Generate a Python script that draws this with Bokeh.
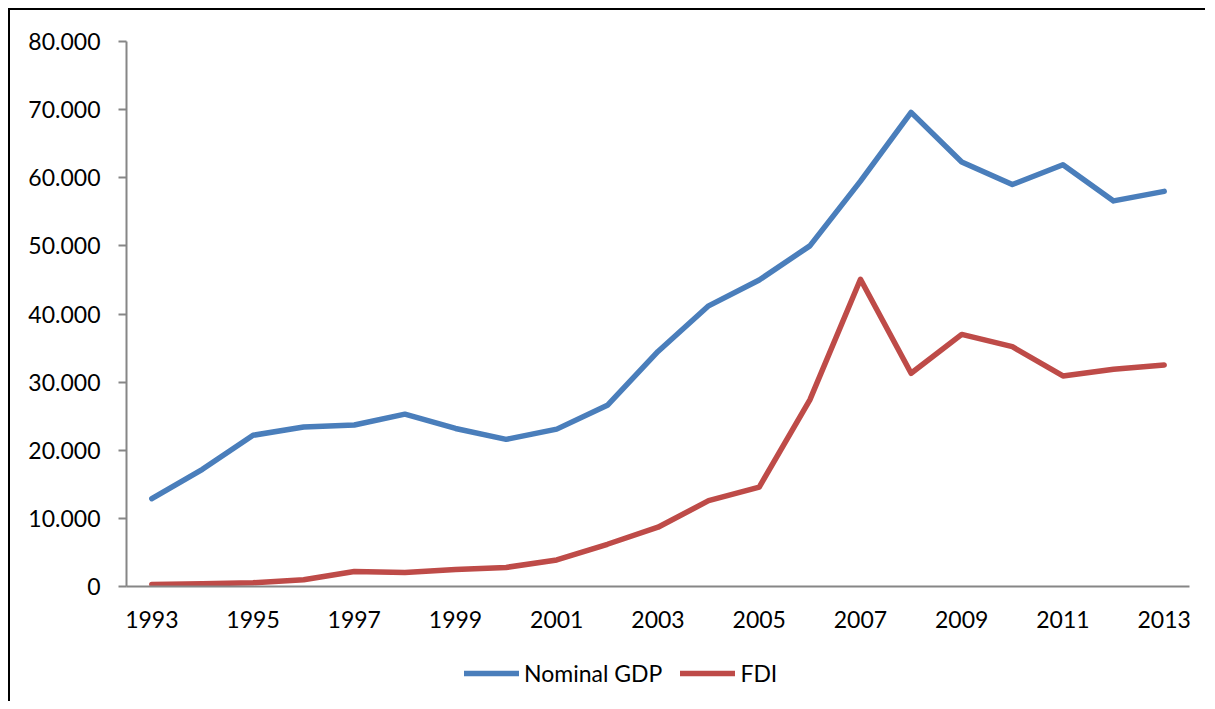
from bokeh.plotting import figure
from bokeh.layouts import column
from bokeh.models import Range1d, FixedTicker, Legend, LegendItem
from bokeh.embed import file_html
from bokeh.resources import INLINE

years = list(range(1993, 2014))
gdp = [12.9, 17.2, 22.2, 23.4, 23.7, 25.3, 23.2, 21.6, 23.1, 26.6, 34.5,
       41.2, 45.0, 50.0, 59.5, 69.6, 62.3, 59.0, 61.9, 56.6, 58.0]
fdi = [0.3, 0.4, 0.55, 1.0, 2.2, 2.05, 2.5, 2.8, 3.9, 6.2, 8.7,
       12.6, 14.6, 27.4, 45.1, 31.3, 37.0, 35.2, 30.9, 31.9, 32.5]
y_ticks = [0, 10, 20, 30, 40, 50, 60, 70, 80]
y_tick_labels = ["0", "10.000", "20.000", "30.000", "40.000", "50.000",
                 "60.000", "70.000", "80.000"]
x_ticks = years[::2]
series_names = ["Nominal GDP", "FDI"]

FONT = "Lato"
FS = "23px"
BLUE = "#4A7EBB"
RED = "#BE4B48"
GREY = "#868686"
W = 1195

p = figure(width=W, height=31 + 545 + 60, output_backend="svg",
           toolbar_location=None,
           x_range=Range1d(years[0] - 0.5, years[-1] + 0.5),
           y_range=Range1d(y_ticks[0], y_ticks[-1]),
           min_border_left=116, min_border_top=31, min_border_right=W - 116 - 1063,
           min_border_bottom=60)
p.outline_line_color = None
p.xgrid.visible = False
p.ygrid.visible = False
p.background_fill_color = "white"

# axes
p.xaxis.ticker = FixedTicker(ticks=x_ticks)
p.xaxis.axis_line_color = GREY
p.xaxis.axis_line_width = 2
p.xaxis.major_tick_line_color = None
p.xaxis.minor_tick_line_color = None
p.xaxis.major_label_text_font = FONT
p.xaxis.major_label_text_font_size = FS
p.xaxis.major_label_text_color = "black"
p.xaxis.major_label_standoff = 18

p.yaxis.ticker = FixedTicker(ticks=y_ticks)
p.yaxis.major_label_overrides = {t: l for t, l in zip(y_ticks, y_tick_labels)}
p.yaxis.axis_line_color = GREY
p.yaxis.axis_line_width = 2
p.yaxis.major_tick_line_color = GREY
p.yaxis.major_tick_line_width = 2
p.yaxis.major_tick_out = 8
p.yaxis.major_tick_in = 0
p.yaxis.minor_tick_line_color = None
p.yaxis.major_label_text_font = FONT
p.yaxis.major_label_text_font_size = FS
p.yaxis.major_label_text_color = "black"
p.yaxis.major_label_standoff = 18

p.line(years, gdp, line_color=BLUE, line_width=5.5, line_join="round", line_cap="round")
p.line(years, fdi, line_color=RED, line_width=5.5, line_join="round", line_cap="round")

# legend strip below the chart (its sample lines lie outside the visible range)
q = figure(width=W, height=55, output_backend="svg", toolbar_location=None,
           x_axis_type=None, y_axis_type=None,
           x_range=Range1d(0, 1), y_range=Range1d(0, 1),
           min_border_left=0, min_border_right=0, min_border_top=0, min_border_bottom=0)
q.outline_line_color = None
q.grid.visible = False
lr1 = q.line(x=[-5, -4], y=[-5, -5], line_color=BLUE, line_width=5.5, line_cap="round")
lr2 = q.line(x=[-5, -4], y=[-5, -5], line_color=RED, line_width=5.5, line_cap="round")

legend = Legend(items=[LegendItem(label=series_names[0], renderers=[lr1]),
                       LegendItem(label=series_names[1], renderers=[lr2])],
                location=(338, 14), orientation="horizontal",
                glyph_width=55, glyph_height=20, label_standoff=5, spacing=18,
                padding=0, margin=0, border_line_color=None,
                background_fill_alpha=0,
                label_text_font=FONT, label_text_font_size=FS,
                label_text_color="black")
q.add_layout(legend, "center")

layout = column(p, q, spacing=0)
layout.styles = {"border-style": "solid none none solid",
                 "border-width": "2px 0px 0px 2px",
                 "border-color": "black",
                 "margin-left": "8px", "margin-top": "8px"}

open("out.html", "w").write(file_html(layout, INLINE))
